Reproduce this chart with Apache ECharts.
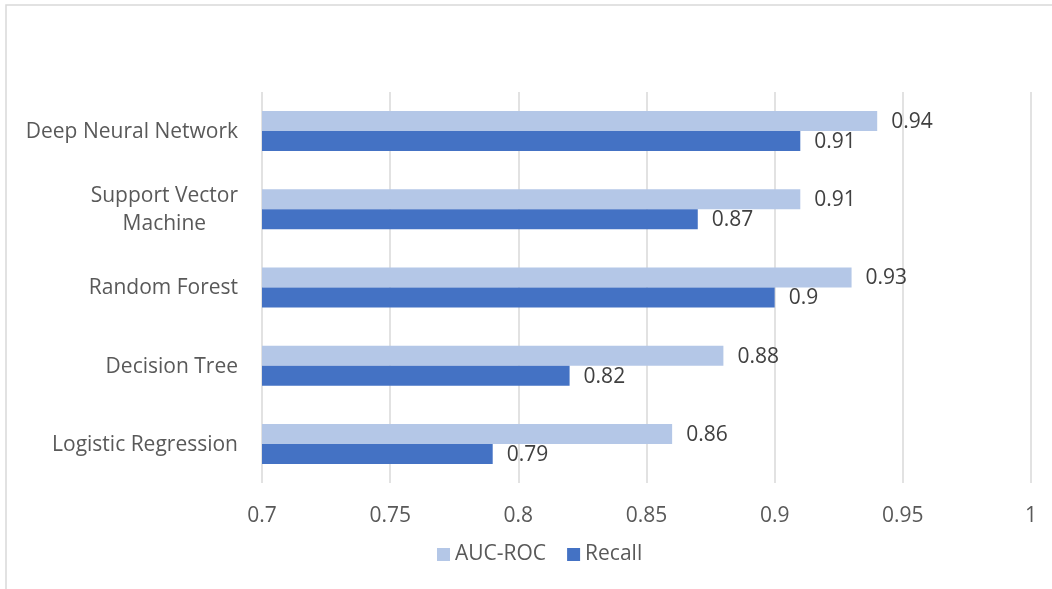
<!DOCTYPE html>
<html>
<head>
<meta charset="utf-8">
<script src="https://cdn.jsdelivr.net/npm/echarts@6/dist/echarts.min.js"></script>
<style>
  html, body { margin: 0; padding: 0; background: #ffffff; }
  #chart { width: 1052px; height: 589px; }
</style>
</head>
<body>
<div id="chart"></div>
<script>
// Model names, bottom to top on the category axis
const models = ['Logistic Regression', 'Decision Tree', 'Random Forest', 'Support Vector Machine', 'Deep Neural Network'];
const aucRoc = [0.86, 0.88, 0.93, 0.91, 0.94];
const recall = [0.79, 0.82, 0.9, 0.87, 0.91];
const seriesNames = ['AUC-ROC', 'Recall'];
const xTicks = [0.7, 0.75, 0.8, 0.85, 0.9, 0.95, 1];

const FONT = 'Open Sans';
const FS = 21;
const chart = echarts.init(document.getElementById('chart'));

// Two-line names are centred line by line, the block stays right-aligned to the axis
function wrapName(name) {
  const lines = name === 'Support Vector Machine' ? ['Support Vector', 'Machine'] : [name];
  return lines.map(l => '{c|' + l + '}').join('\n');
}

const valueLabel = {
  show: true,
  position: 'right',
  distance: 14,
  offset: [0, 1],
  color: '#404040',
  fontSize: FS,
  fontFamily: FONT
};

chart.setOption({
  animation: false,
  textStyle: { fontFamily: FONT },
  graphic: [{
    type: 'rect',
    shape: { x: 6, y: 5, width: 1100, height: 620 },
    style: { fill: 'none', stroke: '#d9d9d9', lineWidth: 1.5 },
    silent: true
  }],
  grid: { left: 262, right: 21, top: 92, bottom: 106, containLabel: false },
  legend: {
    data: seriesNames,
    bottom: 19,
    left: 432,
    itemWidth: 13,
    itemHeight: 13,
    itemGap: 21,
    icon: 'rect',
    textStyle: { color: '#595959', fontSize: FS, fontFamily: FONT }
  },
  xAxis: {
    type: 'value',
    min: xTicks[0],
    max: xTicks[xTicks.length - 1],
    interval: 0.05,
    axisLine: { show: false },
    axisTick: { show: false },
    axisLabel: {
      color: '#595959',
      fontSize: FS,
      fontFamily: FONT,
      margin: 23,
      formatter: v => {
        const t = xTicks.find(x => Math.abs(x - v) < 1e-9);
        return t === undefined ? '' : String(t);
      }
    },
    splitLine: { show: true, lineStyle: { color: '#d9d9d9', width: 1.5 } }
  },
  yAxis: {
    type: 'category',
    data: models,
    axisLine: { show: false },
    axisTick: { show: false },
    axisLabel: {
      margin: 24,
      formatter: wrapName,
      rich: { c: { color: '#595959', fontSize: FS, fontFamily: FONT, align: 'center', lineHeight: 28, padding: [2, 0, 0, 0] } }
    }
  },
  series: [
    {
      name: seriesNames[0],
      type: 'bar',
      data: aucRoc,
      barWidth: 20,
      barGap: '0%',
      itemStyle: { color: '#b4c7e7' },
      label: valueLabel
    },
    {
      name: seriesNames[1],
      type: 'bar',
      data: recall,
      barWidth: 20,
      barGap: '0%',
      itemStyle: { color: '#4472c4' },
      label: valueLabel
    }
  ]
});
</script>
</body>
</html>
